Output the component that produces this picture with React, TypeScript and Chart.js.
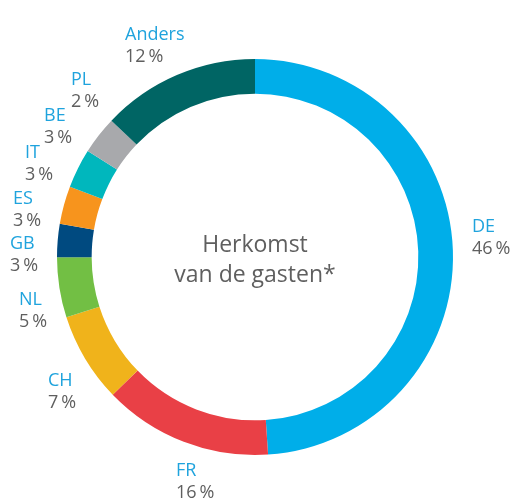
import React, { useEffect, useRef } from "react";
import { Chart, registerables } from "chart.js";

Chart.register(...registerables);

// Categories (clockwise from 12 o'clock)
const categories = ["DE", "FR", "CH", "NL", "GB", "ES", "IT", "BE", "PL", "Anders"];
// Printed shares (%)
const shareLabels = [46, 16, 7, 5, 3, 3, 3, 3, 2, 12];
// Slice sizes as read from the drawn ring (PL has no visible slice)
const sliceValues = [48.9, 13.8, 7.3, 4.9, 2.7, 3.1, 3.2, 3.1, 0, 12.9];
const sliceColors = [
  "#00aee9",
  "#e94046",
  "#f0b31b",
  "#72bf44",
  "#004a80",
  "#f7941d",
  "#00b7bd",
  "#a8a9ac",
  "#a8a9ac",
  "#006564",
];
const centerLines = ["Herkomst", "van de gasten*"];

// Layout: left x and baseline y of each category name label
const labelLayout: [number, number][] = [
  [472, 232],
  [176, 476],
  [48, 386],
  [19, 305],
  [10, 249],
  [13, 204],
  [25, 158],
  [44, 121],
  [71, 85],
  [125, 40],
];

const FONT = "'Open Sans', 'DejaVu Sans', sans-serif";

const labelPlugin = {
  id: "outerLabels",
  afterDraw(chart: any) {
    const ctx = chart.ctx as CanvasRenderingContext2D;
    ctx.save();
    ctx.textAlign = "left";
    ctx.textBaseline = "alphabetic";
    categories.forEach((c, i) => {
      const [x, y] = labelLayout[i];
      ctx.font = `400 18px ${FONT}`;
      ctx.fillStyle = "#1fa3dd";
      ctx.fillText(c, x, y);
      ctx.fillStyle = "#5f5f5f";
      ctx.fillText(`${shareLabels[i]}\u2009%`, x, y + 22);
    });
    const area = chart.chartArea;
    const cx = (area.left + area.right) / 2;
    const cy = (area.top + area.bottom) / 2;
    ctx.textAlign = "center";
    ctx.font = `400 23px ${FONT}`;
    ctx.fillStyle = "#5f5f5f";
    ctx.fillText(centerLines[0], cx, cy - 5);
    ctx.fillText(centerLines[1], cx, cy + 25);
    ctx.restore();
  },
};

export default function App() {
  const ref = useRef<HTMLCanvasElement | null>(null);
  useEffect(() => {
    if (!ref.current) return;
    const chart = new Chart(ref.current, {
      type: "doughnut",
      data: {
        labels: categories,
        datasets: [
          {
            data: sliceValues,
            backgroundColor: sliceColors,
            borderWidth: 0,
          },
        ],
      },
      options: {
        responsive: false,
        animation: false,
        cutout: "82.5%",
        layout: { padding: { left: 57, right: 59, top: 59, bottom: 47 } },
        plugins: {
          legend: { display: false },
          tooltip: { enabled: false },
        },
      },
      plugins: [labelPlugin],
    });
    return () => chart.destroy();
  }, []);
  return (
    <div style={{ position: "absolute", left: 0, top: 0, width: 512, height: 502, background: "#fff" }}>
      <canvas ref={ref} width={512} height={502} />
    </div>
  );
}
